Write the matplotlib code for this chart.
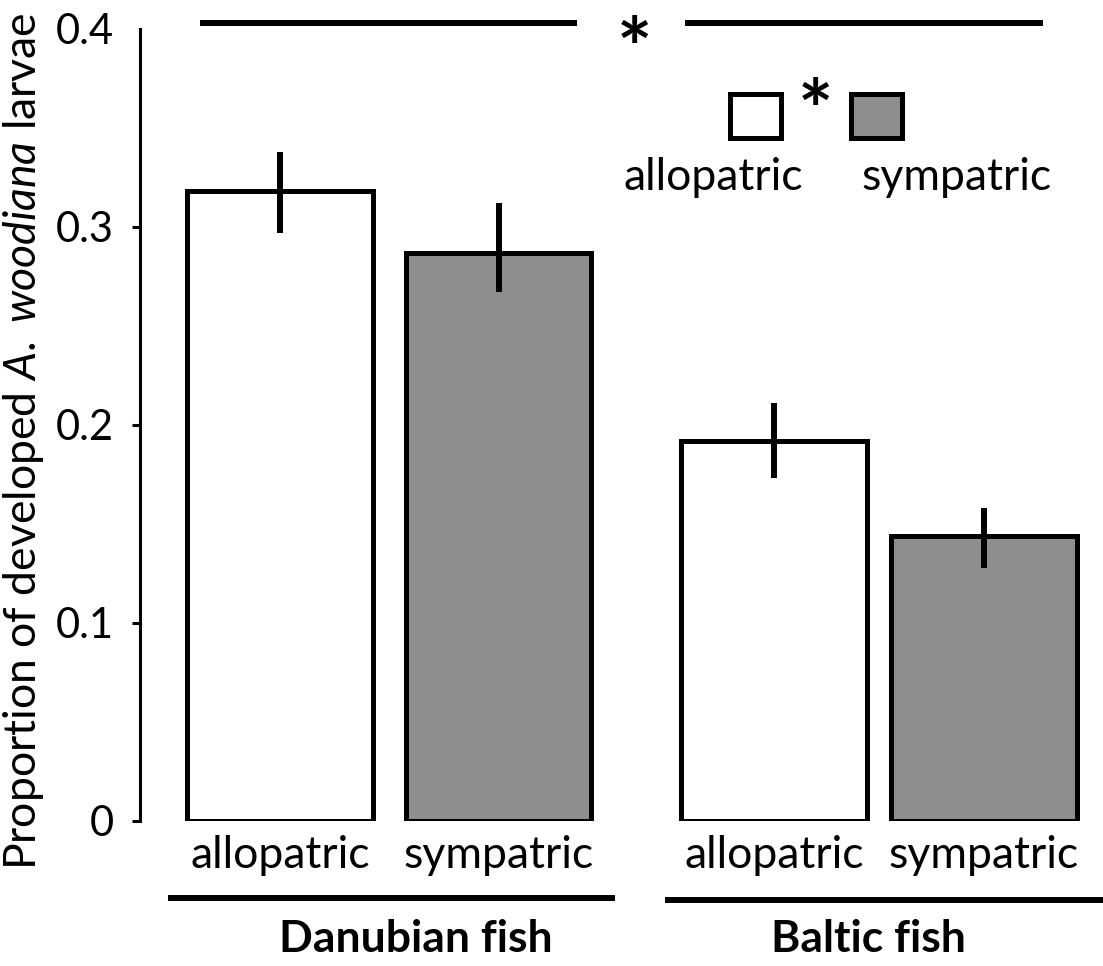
import matplotlib
matplotlib.use("Agg")
import matplotlib.pyplot as plt
import numpy as np
from matplotlib.patches import Rectangle

plt.rcParams["font.family"] = ["Lato", "DejaVu Sans"]
plt.rcParams["mathtext.fontset"] = "custom"
plt.rcParams["mathtext.rm"] = "Lato"
plt.rcParams["mathtext.it"] = "Lato:italic"

# ---- data ----
groups = ["Danubian fish", "Baltic fish"]
conditions = ["allopatric", "sympatric", "allopatric", "sympatric"]
proportion = [0.318, 0.287, 0.192, 0.144]
err_low = [0.297, 0.267, 0.173, 0.128]
err_high = [0.338, 0.312, 0.211, 0.158]
yticks = [0, 0.1, 0.2, 0.3, 0.4]
ytick_labels = ["0", "0.1", "0.2", "0.3", "0.4"]

# ---- layout ----
FONT = 32
YFONT = 30
GRAY = "#8e8e8e"
x_pos = np.array([0.0, 1.15, 2.6, 3.705])
bar_w = 0.975
fills = ["white", GRAY, "white", GRAY]

W_PX, H_PX = 1103, 966
fig = plt.figure(figsize=(W_PX / 100, H_PX / 100), dpi=100)
ax = fig.add_axes([140 / W_PX, (H_PX - 821) / H_PX, 1 - 140 / W_PX, (821 - 29) / H_PX])
ax.set_xlim((140 - 280) / 190, (W_PX - 280) / 190)
ax.set_ylim(0, 0.4)

ax.bar(x_pos, proportion, width=bar_w, color=fills, edgecolor="black",
       linewidth=3.6, zorder=2)
yerr = [np.array(proportion) - np.array(err_low), np.array(err_high) - np.array(proportion)]
ax.errorbar(x_pos, proportion, yerr=yerr, fmt="none", ecolor="black",
            elinewidth=4.3, capsize=0, zorder=3)

# axes styling
for s in ("top", "right", "bottom"):
    ax.spines[s].set_visible(False)
ax.spines["left"].set_linewidth(2.2)
ax.set_yticks(yticks, ytick_labels)
ax.tick_params(axis="y", length=6, width=2.2, pad=13, labelsize=YFONT)
ax.yaxis.get_major_ticks()[-1].tick1line.set_visible(False)
ax.set_xticks(x_pos, conditions)
ax.tick_params(axis="x", length=0, pad=10, labelsize=FONT)

fig.text(24 / W_PX, 1 - 441 / H_PX,
         r"Proportion of developed $\mathit{A.\ woodiana}$ larvae",
         rotation=90, ha="center", va="center", fontsize=32)

def px_x(p):
    return (p - 280) / 190

def px_y(p):
    return (821 - p) / 1980

# group underlines and labels
ax.plot([px_x(168), px_x(615)], [px_y(898)] * 2, color="black", lw=4.3,
        clip_on=False, solid_capstyle="butt")
ax.plot([px_x(665), px_x(1103)], [px_y(900)] * 2, color="black", lw=4.3,
        clip_on=False, solid_capstyle="butt")
ax.text(px_x(416), px_y(952), groups[0], ha="center", va="baseline",
        fontsize=FONT, fontweight="bold")
ax.text(px_x(868), px_y(952), groups[1], ha="center", va="baseline",
        fontsize=FONT, fontweight="bold")

# significance line across groups
ax.plot([px_x(200), px_x(577)], [px_y(23)] * 2, color="black", lw=4.3,
        clip_on=False, solid_capstyle="butt")
ax.plot([px_x(685), px_x(1043)], [px_y(23)] * 2, color="black", lw=4.3,
        clip_on=False, solid_capstyle="butt")
ax.text(px_x(634), px_y(78), "*", ha="center", va="baseline", fontsize=60,
        fontweight="bold", clip_on=False)

# legend (boxes with labels beneath, asterisk between)
for x0, x1, fc, lab, lx in [(729.5, 780.5, "white", "allopatric", 713),
                            (850.5, 901.5, GRAY, "sympatric", 957)]:
    ax.add_patch(Rectangle((px_x(x0), px_y(137.5)), px_x(x1) - px_x(x0),
                           px_y(94.5) - px_y(137.5), facecolor=fc,
                           edgecolor="black", linewidth=3.6, clip_on=False))
    ax.text(px_x(lx), px_y(190), lab, ha="center", va="baseline", fontsize=FONT)
ax.text(px_x(815), px_y(140), "*", ha="center", va="baseline", fontsize=60,
        fontweight="bold")

fig.savefig("out.png", dpi=100, facecolor="white")
